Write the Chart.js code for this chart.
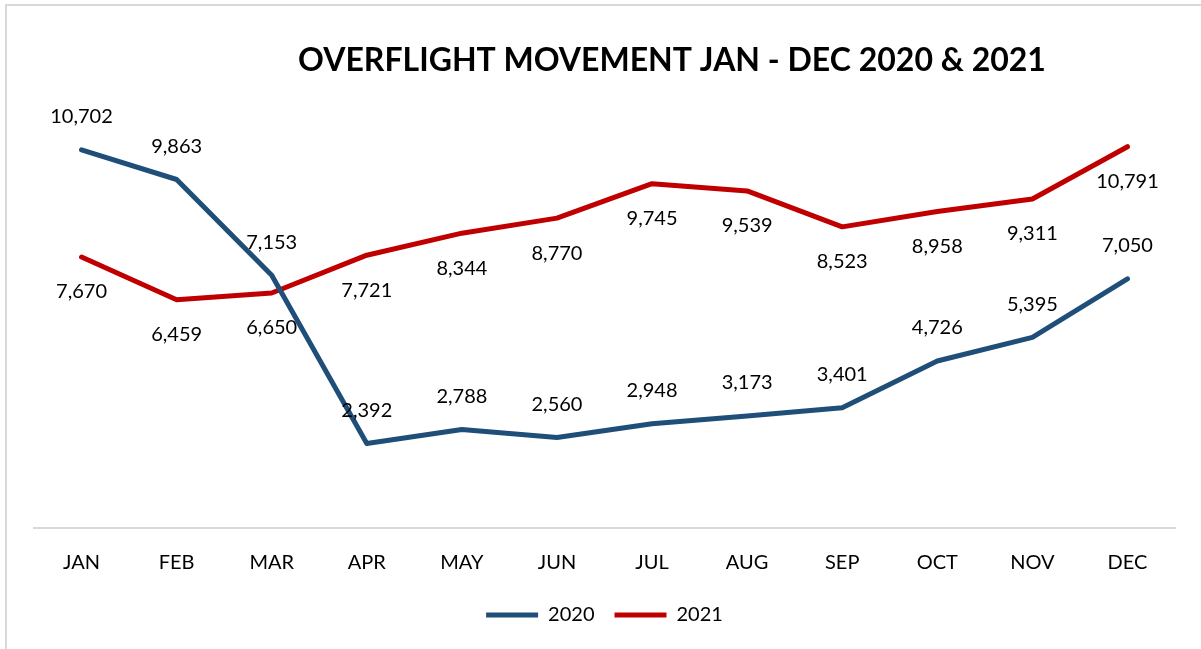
<!DOCTYPE html>
<html>
<head>
<meta charset="utf-8">
<script src="https://cdn.jsdelivr.net/npm/chart.js@4.4.1/dist/chart.umd.min.js"></script>
<style>
  html, body { margin: 0; padding: 0; background: #fff; overflow: hidden; }
  #wrap { position: relative; width: 1201px; height: 649px; }
  #frame { position: absolute; left: 5px; top: 4px; width: 1220px; height: 680px; border: 2px solid #d9d9d9; box-sizing: border-box; pointer-events: none; }
  canvas { position: absolute; left: 0; top: 0; }
</style>
</head>
<body>
<div id="wrap">
  <canvas id="c" width="1201" height="649"></canvas>
  <div id="frame"></div>
</div>
<script>
const categories = ["JAN", "FEB", "MAR", "APR", "MAY", "JUN", "JUL", "AUG", "SEP", "OCT", "NOV", "DEC"];
const values2020 = [10702, 9863, 7153, 2392, 2788, 2560, 2948, 3173, 3401, 4726, 5395, 7050];
const values2021 = [7670, 6459, 6650, 7721, 8344, 8770, 9745, 9539, 8523, 8958, 9311, 10791];
const seriesNames = ["2020", "2021"];
const titleText = "OVERFLIGHT MOVEMENT JAN - DEC 2020 & 2021";

const FONT = "Lato, 'Open Sans', 'Liberation Sans', sans-serif";

const labelPlugin = {
  id: 'valueLabels',
  afterDatasetsDraw(chart) {
    const ctx = chart.ctx;
    ctx.save();
    ctx.font = "20px " + FONT;
    ctx.fillStyle = "#000";
    ctx.textAlign = "center";
    ctx.textBaseline = "middle";
    chart.data.datasets.forEach((ds, di) => {
      const meta = chart.getDatasetMeta(di);
      meta.data.forEach((pt, i) => {
        const v = ds.data[i];
        const dy = di === 0 ? -33 : 35;
        ctx.fillText(v.toLocaleString('en-US'), pt.x, pt.y + dy);
      });
    });
    ctx.restore();
  }
};

const titlePlugin = {
  id: 'offsetTitle',
  afterDraw(chart) {
    const ctx = chart.ctx;
    ctx.save();
    ctx.font = "bold 32px " + FONT;
    ctx.fillStyle = "#000";
    ctx.textAlign = "center";
    ctx.textBaseline = "middle";
    ctx.fillText(titleText, 672, 61);
    ctx.restore();
  }
};

new Chart(document.getElementById('c'), {
  type: 'line',
  data: {
    labels: categories,
    datasets: [
      { label: seriesNames[0], data: values2020, borderColor: '#1F4E79', backgroundColor: '#1F4E79',
        borderWidth: 5, pointRadius: 0, tension: 0, borderCapStyle: 'round', borderJoinStyle: 'round' },
      { label: seriesNames[1], data: values2021, borderColor: '#C00000', backgroundColor: '#C00000',
        borderWidth: 5, pointRadius: 0, tension: 0, borderCapStyle: 'round', borderJoinStyle: 'round' }
    ]
  },
  options: {
    responsive: false,
    animation: false,
    layout: { padding: { left: 34, right: 26, top: 104, bottom: 14 } },
    scales: {
      x: {
        offset: true,
        grid: { display: false, drawTicks: false },
        border: { display: true, color: '#d9d9d9', width: 2 },
        ticks: { color: '#000', font: { family: FONT, size: 20 }, padding: 23, maxRotation: 0, autoSkip: false },
        afterFit(scale) { scale.height -= 13; }
      },
      y: {
        display: false,
        min: 0,
        max: 12000
      }
    },
    plugins: {
      legend: {
        position: 'bottom',
        labels: {
          color: '#000',
          font: { family: FONT, size: 20 },
          usePointStyle: true,
          pointStyle: 'line',
          pointStyleWidth: 52,
          padding: 20
        }
      },
      title: { display: false },
      tooltip: { enabled: false }
    }
  },
  plugins: [labelPlugin, titlePlugin]
});
</script>
</body>
</html>
